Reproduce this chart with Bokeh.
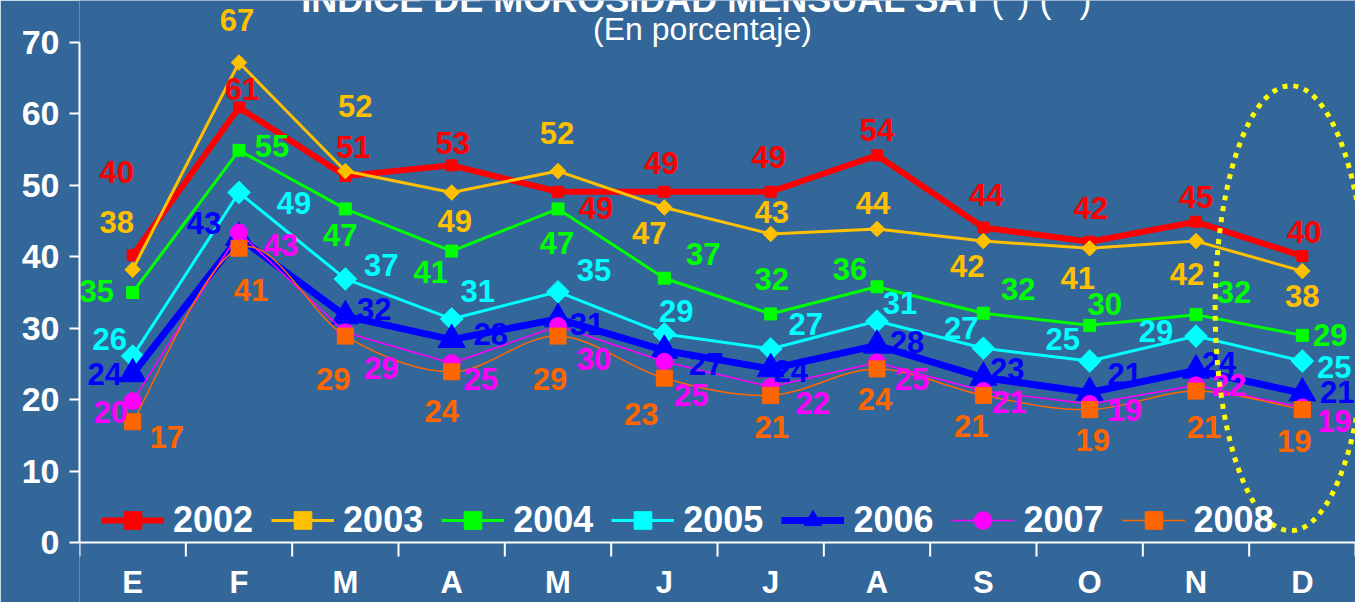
from bokeh.plotting import figure
from bokeh.models import (ColumnDataSource, Range1d, FixedTicker, Legend, LegendItem, Label, Span)
from bokeh.core.properties import value
from bokeh.embed import file_html
from bokeh.resources import INLINE
import math

# ---------------- data ----------------
months = ["E", "F", "M", "A", "M", "J", "J", "A", "S", "O", "N", "D"]
years = ["2002", "2003", "2004", "2005", "2006", "2007", "2008"]

v2002 = [40.2, 60.9, 51.3, 52.8, 49.1, 49.1, 49.1, 54.2, 44.1, 42.1, 44.9, 40.1]
v2003 = [38.2, 67.2, 52.0, 49.0, 52.0, 46.9, 43.2, 43.9, 42.2, 41.2, 42.2, 38.0]
v2004 = [35.0, 54.9, 46.7, 40.8, 46.7, 37.0, 32.0, 35.8, 32.1, 30.4, 31.9, 29.0]
v2005 = [26.1, 49.0, 36.9, 31.3, 35.1, 29.2, 27.1, 31.0, 27.2, 25.4, 28.9, 25.4]
v2006 = [23.6, 42.7, 31.7, 28.4, 31.3, 26.9, 24.3, 27.6, 23.1, 21.0, 24.1, 20.9]
v2007 = [19.8, 43.4, 29.4, 25.1, 30.3, 25.3, 21.8, 25.2, 21.2, 19.4, 22.0, 18.9]
v2008 = [16.9, 41.2, 28.9, 23.9, 28.9, 23.0, 20.6, 24.3, 20.6, 18.6, 21.2, 18.6]

y_ticks = [0, 10, 20, 30, 40, 50, 60, 70]

# ---------------- styles / layout ----------------
FONT = "Liberation Sans"
BG = "#336699"
series = {
    "2002": dict(vals=v2002, color="#FF0000", lw=6, marker="square", size=11, angle=0.0, smooth=False),
    "2003": dict(vals=v2003, color="#FFC000", lw=3, marker="square", size=11, angle=math.pi / 4, smooth=False),
    "2004": dict(vals=v2004, color="#00FF00", lw=3, marker="square", size=12, angle=0.0, smooth=False),
    "2005": dict(vals=v2005, color="#00FFFF", lw=3, marker="square", size=16, angle=math.pi / 4, smooth=False),
    "2006": dict(vals=v2006, color="#0000FF", lw=7, marker="triangle", size=27, angle=0.0, smooth=False),
    "2007": dict(vals=v2007, color="#FF00FF", lw=1.5, marker="circle", size=17, angle=0.0, smooth=False),
    "2008": dict(vals=v2008, color="#FF6600", lw=1.5, marker="square", size=16, angle=0.0, smooth=True),
}
# data-label offsets in pixels (dx, dy; dy positive = down)
label_offsets = {
    "2002": [(-16, -83), (3, -19), (8, -29), (1, -22), (38, 16), (-3, -29), (-2, -35), (0, -25), (3, -33), (1, -34), (0, -25), (2, -24)],
    "2003": [(-16, -48), (-2, -43), (10, -65), (3, 28), (-1, -38), (-15, 25), (1, -22), (-4, -26), (-16, 25), (-12, 30), (-9, 33), (0, 25)],
    "2004": [(-36, -2), (33, -4), (-5, 26), (-21, 21), (-1, 34), (39, -24), (1, -35), (-27, -18), (35, -24), (15, -21), (38, -23), (28, 0)],
    "2005": [(-23, -17), (55, 10), (36, -14), (26, -28), (36, -22), (12, -23), (35, -25), (23, -18), (-22, -20), (-27, -22), (-40, -5), (32, 6)],
    "2006": [(-28, 0), (-35, -15), (29, -7), (39, -6), (29, 5), (42, 14), (20, 2), (30, -3), (24, -9), (35, -19), (23, -7), (35, -1)],
    "2007": [(-22, 11), (42, 12), (36, 35), (29, 16), (36, 33), (27, 33), (42, 16), (35, 16), (26, 11), (35, 6), (33, 0), (32, 13)],
    "2008": [(34, 15), (12, 42), (-12, 43), (-10, 39), (-8, 43), (-23, 36), (1, 32), (-2, 30), (-12, 31), (3, 30), (8, 36), (-8, 31)],
}

W, H = 1355, 602
LEFT = 79
ZERO_Y = 542                  # screen y of the value 0 (x-axis line)
PX_PER_UNIT = 500 / 70        # value 70 sits 42 px from the top
Y_START = -(H - ZERO_Y) / PX_PER_UNIT
Y_END = ZERO_Y / PX_PER_UNIT

p = figure(width=W, height=H, output_backend="svg", toolbar_location=None,
           x_range=Range1d(0, len(months)), y_range=Range1d(Y_START, Y_END),
           min_border_left=LEFT, min_border_right=0, min_border_top=0, min_border_bottom=0,
           x_axis_location=None,
           background_fill_color=BG, border_fill_color=BG, outline_line_color=None)
p.xgrid.visible = False
p.ygrid.visible = False

xs = [i + 0.5 for i in range(len(months))]
bounds = list(range(len(months) + 1))

# ---------------- category (x) axis at value 0 ----------------
p.add_layout(Span(location=0, dimension="width", line_color="white", line_width=2))
p.ray(x=bounds, y=[0] * len(bounds), length=14, length_units="screen", angle=-math.pi / 2,
      line_color="white", line_width=2)
p.text(x=xs, y=[0] * len(xs), text=months, y_offset=40,
       text_align="center", text_baseline="middle", text_font=value(FONT),
       text_font_style="bold", text_font_size="31px", text_color="white")

# ---------------- value (y) axis ----------------
p.yaxis.ticker = FixedTicker(ticks=y_ticks)
p.yaxis.bounds = (0, 70)
p.yaxis.axis_line_color = "white"
p.yaxis.axis_line_width = 2
p.yaxis.major_tick_out = 10
p.yaxis.major_tick_in = 0
p.yaxis.major_tick_line_color = "white"
p.yaxis.major_tick_line_width = 2
p.yaxis.minor_tick_line_color = None
p.yaxis.major_label_standoff = 10
p.yaxis.major_label_text_font = FONT
p.yaxis.major_label_text_font_style = "bold"
p.yaxis.major_label_text_font_size = "34px"
p.yaxis.major_label_text_color = "white"

# ---------------- series ----------------
legend_items = []
for yr in years:
    s = series[yr]
    vals = s["vals"]
    if s["smooth"]:
        n = len(vals)
        x0, y0, x1, y1, cx0, cy0, cx1, cy1 = [], [], [], [], [], [], [], []
        for i in range(n - 1):
            xa, ya = xs[i], vals[i]
            xb, yb = xs[i + 1], vals[i + 1]
            xp, yp = (xs[i - 1], vals[i - 1]) if i > 0 else (xa, ya)
            xn, yn = (xs[i + 2], vals[i + 2]) if i + 2 < n else (xb, yb)
            x0.append(xa); y0.append(ya); x1.append(xb); y1.append(yb)
            cx0.append(xa + (xb - xp) / 6); cy0.append(ya + (yb - yp) / 6)
            cx1.append(xb - (xn - xa) / 6); cy1.append(yb - (yn - ya) / 6)
        line_r = p.bezier(x0=x0, y0=y0, x1=x1, y1=y1, cx0=cx0, cy0=cy0, cx1=cx1, cy1=cy1,
                          line_color=s["color"], line_width=s["lw"])
    else:
        line_r = p.line(xs, vals, line_color=s["color"], line_width=s["lw"])
    mk_r = p.scatter(xs, vals, marker=s["marker"], size=s["size"], angle=s["angle"],
                     fill_color=s["color"], line_color=s["color"], line_width=1)
    legend_items.append(LegendItem(label=yr, renderers=[line_r, mk_r]))

for yr in years:
    s = series[yr]
    offs = label_offsets[yr]
    src = ColumnDataSource(dict(
        x=xs, y=s["vals"],
        txt=[str(int(round(v))) for v in s["vals"]],
        dx=[o[0] for o in offs], dy=[o[1] for o in offs]))
    p.text(x="x", y="y", text="txt", x_offset="dx", y_offset="dy", source=src,
           text_color=s["color"], text_font=value(FONT), text_font_style="bold",
           text_font_size="31px", text_align="center", text_baseline="middle")

# highlight of the last month
p.ellipse(x=[xs[-1] - 0.11], y=[32.8], width=[151], height=[445],
          width_units="screen", height_units="screen",
          fill_color=None, line_color="#FFFF00", line_width=5, line_dash="5 6")

# ---------------- legend ----------------
legend = Legend(items=legend_items, orientation="horizontal", location=(22, H - ZERO_Y),
                background_fill_alpha=0, border_line_color=None,
                label_text_font=FONT, label_text_font_style="bold",
                label_text_font_size="36px", label_text_color="white",
                glyph_width=63, glyph_height=44, label_standoff=9, spacing=18,
                padding=0, margin=0)
p.add_layout(legend)

# ---------------- titles ----------------
p.add_layout(Label(x=905, y=H + 1, x_units="screen", y_units="screen",
                   text="ÍNDICE DE MOROSIDAD MENSUAL SAT", text_align="right",
                   text_baseline="alphabetic", text_font=FONT, text_font_style="bold",
                   text_font_size="36px", text_color="white"))
p.add_layout(Label(x=912, y=H + 1, x_units="screen", y_units="screen",
                   text="(*) (**)", text_align="left",
                   text_baseline="alphabetic", text_font=FONT,
                   text_font_size="36px", text_color="white"))
p.add_layout(Label(x=623, y=H - 28, x_units="screen", y_units="screen",
                   text="(En porcentaje)", text_align="center",
                   text_baseline="middle", text_font=FONT,
                   text_font_size="32px", text_color="white"))

open("out.html", "w").write(file_html(p, INLINE))
